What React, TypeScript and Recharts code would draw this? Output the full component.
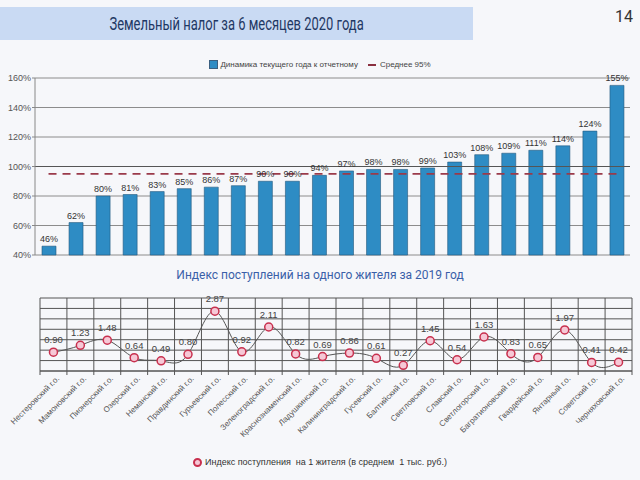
import {
  ComposedChart,
  Bar,
  Line,
  XAxis,
  YAxis,
  CartesianGrid,
  LabelList,
  Legend,
  ReferenceLine,
} from 'recharts';

const districts = [
  'Нестеровский г.о.',
  'Мамоновский г.о.',
  'Пионерский г.о.',
  'Озерский г.о.',
  'Неманский г.о.',
  'Правдинский г.о.',
  'Гурьевский  г.о.',
  'Полесский г.о.',
  'Зеленоградский  г.о.',
  'Краснознаменский г.о.',
  'Ладушкинский г.о.',
  'Калининградский г.о.',
  'Гусевский г.о.',
  'Балтийский г.о.',
  'Светловский г.о.',
  'Славский г.о.',
  'Светлогорский г.о.',
  'Багратионовский г.о.',
  'Гвардейский г.о.',
  'Янтарный г.о.',
  'Советский г.о.',
  'Черняховский г.о.',
];

// динамика текущего года к отчетному, %
const growthPct = [46, 62, 80, 81, 83, 85, 86, 87, 90, 90, 94, 97, 98, 98, 99, 103, 108, 109, 111, 114, 124, 155];
const averagePct = 95;
const pctTicks = [40, 60, 80, 100, 120, 140, 160];

// индекс поступлений на одного жителя, тыс. руб.
const perCapita = [0.9, 1.23, 1.48, 0.64, 0.49, 0.8, 2.87, 0.92, 2.11, 0.82, 0.69, 0.86, 0.61, 0.27, 1.45, 0.54, 1.63, 0.83, 0.65, 1.97, 0.41, 0.42];
const perCapitaTicks = [0, 0.5, 1, 1.5, 2, 2.5, 3, 3.5];

const growthData = growthPct.map((v, i) => ({ idx: i + 1, growth: v, average: averagePct }));
const perCapitaData = districts.map((name, i) => ({ name, value: perCapita[i] }));

const LINE_W = 640;
const LINE_MARGIN = { top: 13, right: 8, bottom: 4, left: 40 };
const HALF_BAND = (LINE_W - LINE_MARGIN.left - LINE_MARGIN.right) / districts.length / 2;
const PC_MAX = 3.5;

const smallFont = '"Liberation Sans", Arial, sans-serif';

function GrowthLegend() {
  return (
    <div style={{ display: 'flex', alignItems: 'center', justifyContent: 'center', fontSize: 8, color: '#444', fontFamily: smallFont }}>
      <span style={{ display: 'inline-block', width: 7, height: 7, background: '#2e8cc4', border: '1px solid #3a5f80', marginRight: 2 }} />
      <span>Динамика текущего года к отчетному</span>
      <span style={{ display: 'inline-block', width: 8, height: 2, background: '#8a3040', margin: '0 4px 0 10px' }} />
      <span>Среднее 95%</span>
    </div>
  );
}

function PerCapitaLegend() {
  return (
    <div style={{ display: 'flex', alignItems: 'center', justifyContent: 'center', fontSize: 9, color: '#333', fontFamily: smallFont }}>
      <span style={{ display: 'inline-block', width: 5, height: 5, borderRadius: '50%', border: '2px solid #c8304e', background: '#f6c8d6', marginRight: 3 }} />
      <span>Индекс поступления&nbsp; на 1 жителя (в среднем&nbsp; 1 тыс. руб.)</span>
    </div>
  );
}

function DistrictTick(props: any) {
  const { x, y, payload, index } = props;
  const last = index === districts.length - 1;
  return (
    <g transform={`translate(${x},${y})`}>
      <line x1={-HALF_BAND} x2={-HALF_BAND} y1={-6} y2={-2} stroke="#555" />
      {last && <line x1={HALF_BAND} x2={HALF_BAND} y1={-6} y2={-2} stroke="#555" />}
      <text x={3} y={6} transform="rotate(-45)" textAnchor="end" fontSize={8} fill="#555" fontFamily={smallFont}>
        {payload.value}
      </text>
    </g>
  );
}

export default function App() {
  return (
    <div
      style={{
        position: 'fixed',
        left: 0,
        top: 0,
        width: 640,
        height: 480,
        background: '#f6f7fa',
        overflow: 'hidden',
        fontFamily: 'Roboto, sans-serif',
      }}
    >
      <div
        style={{
          position: 'absolute',
          left: 0,
          top: 7,
          width: 473,
          height: 33,
          background: '#c9daf3',
          display: 'flex',
          alignItems: 'center',
          justifyContent: 'center',
        }}
      >
        <span style={{ display: 'inline-block', fontSize: 18, color: '#1f3864', transform: 'scaleX(0.72)', whiteSpace: 'nowrap' }}>
          Земельный налог за 6 месяцев 2020 года
        </span>
      </div>
      <div style={{ position: 'absolute', left: 615, top: 7, fontSize: 16, color: '#333' }}>14</div>

      <div style={{ position: 'absolute', left: 0, top: 52 }}>
        <ComposedChart width={640} height={208} data={growthData} margin={{ top: 26, right: 10, bottom: 5, left: 0 }}>
          <CartesianGrid vertical={false} stroke="#8c8c8c" />
          <XAxis dataKey="idx" hide />
          <YAxis
            domain={[40, 160]}
            ticks={pctTicks}
            tickFormatter={(v) => `${v}%`}
            width={35}
            tick={{ fontSize: 9, fill: '#555', fontFamily: smallFont }}
            tickSize={3}
            tickMargin={1}
            stroke="#888"
          />
          <ReferenceLine y={100} stroke="#555" />
          <Legend verticalAlign="middle" wrapperStyle={{ top: 8, left: 0, width: 640 }} content={() => <GrowthLegend />} />
          <Bar dataKey="growth" barSize={14} fill="#2e8cc4" stroke="#24597e" strokeWidth={0.6} isAnimationActive={false}>
            <LabelList
              dataKey="growth"
              position="top"
              offset={4}
              formatter={(v: any) => `${v}%`}
              style={{ fontSize: 9, fill: '#333', fontFamily: smallFont }}
            />
          </Bar>
          <Line
            dataKey="average"
            stroke="#9a3a4a"
            strokeWidth={1.8}
            strokeDasharray="8 6"
            dot={false}
            activeDot={false}
            isAnimationActive={false}
          />
        </ComposedChart>
      </div>

      <div
        style={{
          position: 'absolute',
          left: 0,
          top: 268,
          width: 640,
          textAlign: 'center',
          fontSize: 12,
          color: '#3a5fa8',
        }}
      >
        Индекс поступлений на одного жителя за 2019 год
      </div>

      <div style={{ position: 'absolute', left: 0, top: 285 }}>
        <ComposedChart width={LINE_W} height={190} data={perCapitaData} margin={LINE_MARGIN}>
          <CartesianGrid
            stroke="#555"
            verticalCoordinatesGenerator={({ offset }: any) =>
              districts.map((_, i) => offset.left + (i * offset.width) / districts.length).concat(offset.left + offset.width)
            }
            horizontalCoordinatesGenerator={({ offset }: any) =>
              perCapitaTicks.map((v) => offset.top + offset.height * (1 - v / PC_MAX))
            }
          />
          <XAxis
            dataKey="name"
            interval={0}
            height={100}
            tickSize={4}
            tickMargin={2}
            tickLine={false}
            padding={{ left: HALF_BAND, right: HALF_BAND }}
            stroke="#555"
            tick={<DistrictTick />}
          />
          <YAxis domain={[0, PC_MAX]} ticks={perCapitaTicks} width={0} tick={false} axisLine={false} tickLine={false} />
          <Legend verticalAlign="middle" wrapperStyle={{ top: 172, left: 0, width: 640 }} content={() => <PerCapitaLegend />} />
          <Line
            type="natural"
            dataKey="value"
            stroke="#555"
            strokeWidth={1}
            dot={{ r: 4, fill: '#f6c8d6', stroke: '#c8304e', strokeWidth: 1.5 }}
            activeDot={false}
            isAnimationActive={false}
          >
            <LabelList
              dataKey="value"
              position="top"
              offset={9}
              formatter={(v: any) => Number(v).toFixed(2)}
              style={{ fontSize: 9.5, fill: '#444', fontFamily: smallFont }}
            />
          </Line>
        </ComposedChart>
      </div>
    </div>
  );
}
